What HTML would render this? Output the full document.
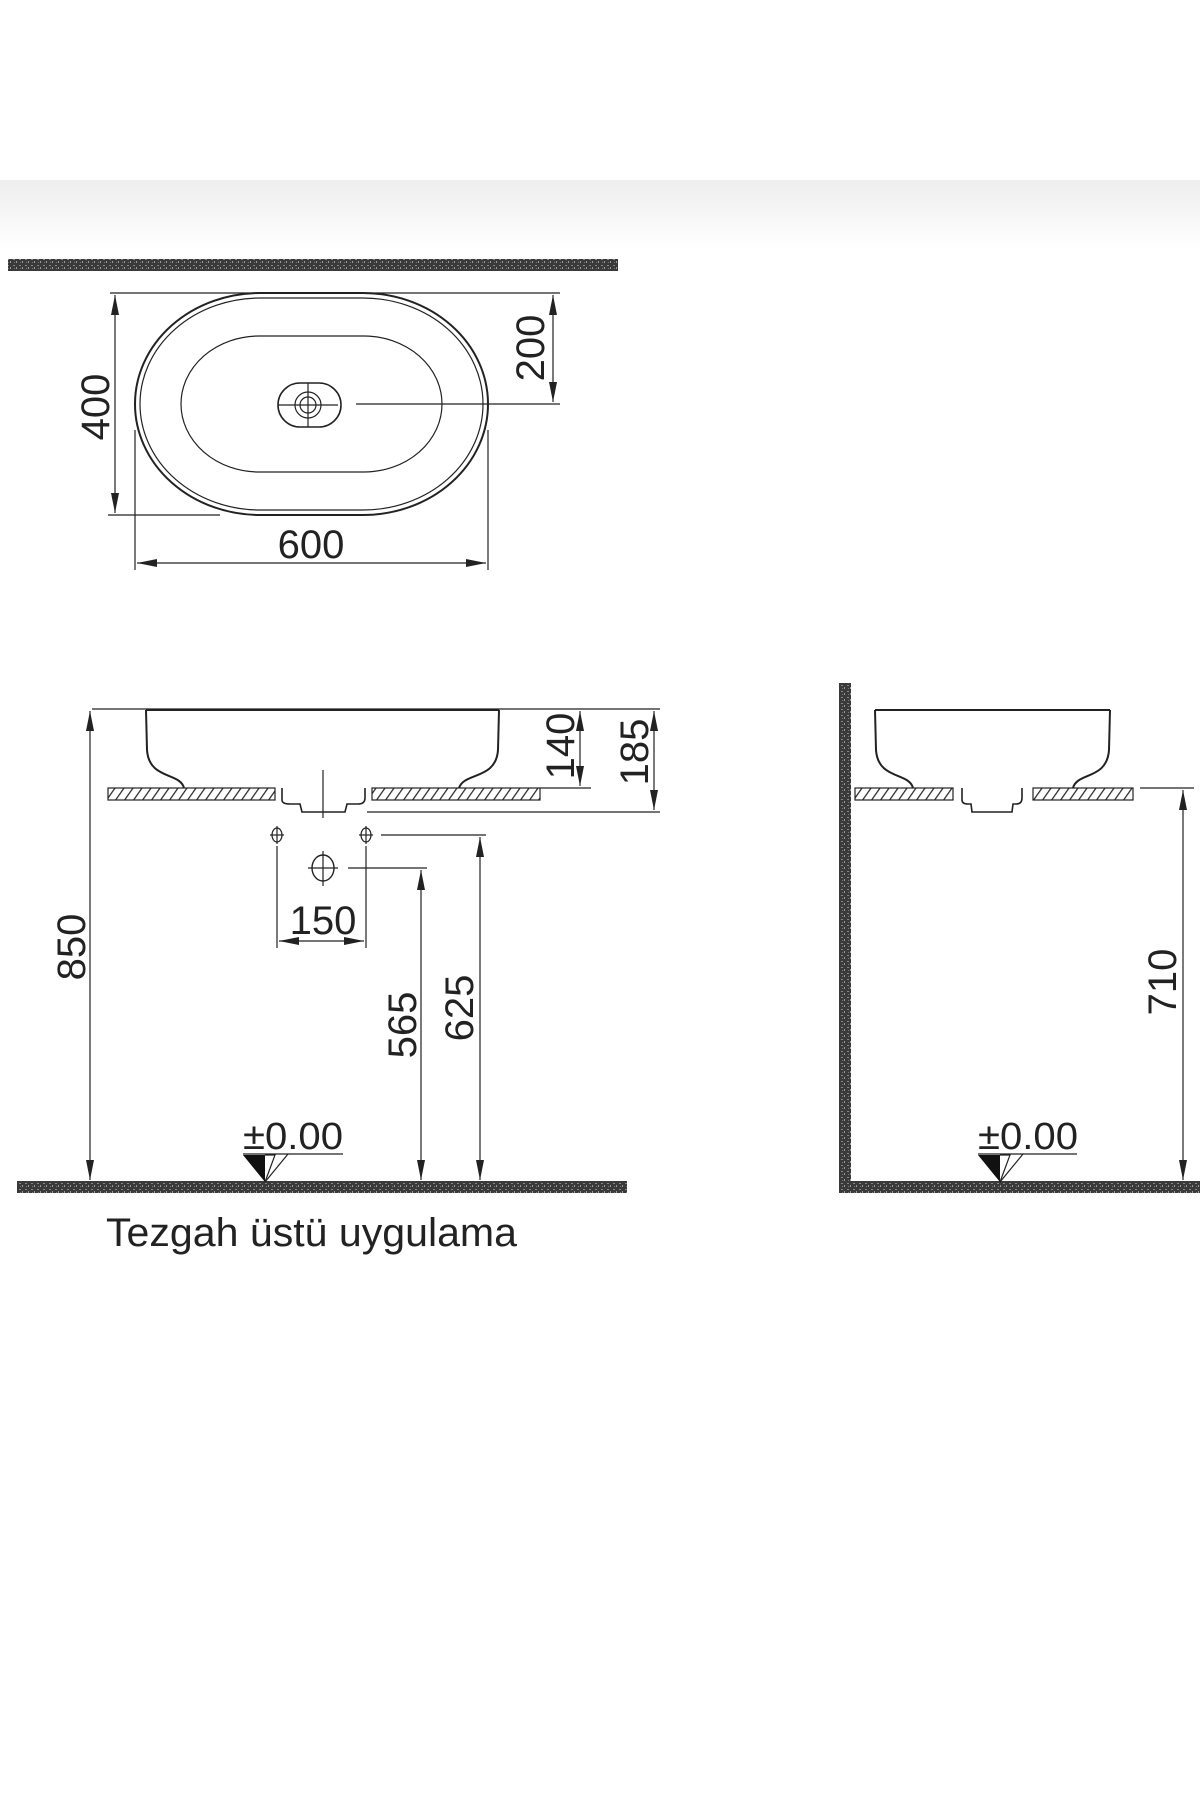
<!DOCTYPE html>
<html><head><meta charset="utf-8"><style>
html,body{margin:0;padding:0;background:#fff;}
svg{display:block;}
text{font-family:"Liberation Sans",sans-serif;fill:#222;}
</style></head><body>
<svg width="1200" height="1800" viewBox="0 0 1200 1800" xmlns="http://www.w3.org/2000/svg">
<defs>
<linearGradient id="g" x1="0" y1="0" x2="0" y2="1"><stop offset="0" stop-color="#eeeeee"/><stop offset="1" stop-color="#ffffff"/></linearGradient>
<pattern id="tex" width="6" height="6" patternUnits="userSpaceOnUse"><rect width="6" height="6" fill="#3a3a3a"/><rect x="1" y="1" width="2" height="1" fill="#888"/><rect x="4" y="3" width="1" height="2" fill="#999"/><rect x="2" y="4" width="1" height="1" fill="#777"/></pattern>
<pattern id="hatch" width="9" height="12" patternUnits="userSpaceOnUse" patternTransform="skewX(-35)"><rect width="9" height="12" fill="#fff"/><rect x="0" width="1.6" height="12" fill="#333"/></pattern>
<marker id="a" viewBox="0 0 20 8" refX="20" refY="4" markerWidth="20" markerHeight="8" markerUnits="userSpaceOnUse" orient="auto-start-reverse"><path d="M0,0 L20,4 L0,8 Z" fill="#222"/></marker>
</defs>
<rect x="0" y="180" width="1200" height="70" fill="url(#g)"/>
<g stroke="#222" fill="none" stroke-width="1.2">
<rect x="8" y="259" width="610" height="12" fill="url(#tex)" stroke="none"/>
<rect x="135" y="293" width="353" height="222" rx="125" ry="111" stroke-width="2"/>
<rect x="140" y="298" width="343" height="212" rx="120" ry="106" stroke-width="1.2"/>
<rect x="181" y="336" width="261" height="136" rx="78" ry="68"/>
<rect x="278" y="383" width="63" height="44" rx="22" ry="22" stroke-width="1.6"/>
<circle cx="308" cy="405" r="13"/><circle cx="308" cy="405" r="8"/>
<line x1="278" y1="405" x2="338" y2="405"/><line x1="308" y1="383" x2="308" y2="427"/>
<line x1="356" y1="404" x2="560" y2="404"/>
<line x1="110" y1="293" x2="560" y2="293"/>
<line x1="108" y1="515" x2="220" y2="515"/>
<line x1="115" y1="295" x2="115" y2="513" marker-start="url(#a)" marker-end="url(#a)"/>
<line x1="553" y1="295" x2="553" y2="402" marker-start="url(#a)" marker-end="url(#a)"/>
<line x1="135" y1="430" x2="135" y2="570"/><line x1="488" y1="430" x2="488" y2="570"/>
<line x1="137" y1="563" x2="486" y2="563" marker-start="url(#a)" marker-end="url(#a)"/>
<line x1="92" y1="709" x2="660" y2="709"/>
<path d="M146,710 L499,710 M146,710 L147,750 C149,780 180,772 184,788 M499,710 L498,750 C496,780 464,772 459,788" stroke-width="2"/>
<rect x="108" y="788" width="167" height="12" fill="url(#hatch)"/>
<rect x="372" y="788" width="168" height="12" fill="url(#hatch)"/>
<path d="M282,788 L282,800 Q282,804 290,804 L300,804 L302,812 L345,812 L347,804 L358,804 Q365,804 365,798 L365,788" stroke-width="1.6"/>
<line x1="323" y1="770" x2="323" y2="818"/>
<line x1="540" y1="788" x2="591" y2="788"/>
<line x1="367" y1="812" x2="660" y2="812"/>
<line x1="580" y1="711" x2="580" y2="786" marker-start="url(#a)" marker-end="url(#a)"/>
<line x1="654" y1="711" x2="654" y2="810" marker-start="url(#a)" marker-end="url(#a)"/>
<line x1="90" y1="711" x2="90" y2="1180" marker-start="url(#a)" marker-end="url(#a)"/>
<ellipse cx="277" cy="835" rx="5" ry="7"/><line x1="270" y1="835" x2="284" y2="835"/><line x1="277" y1="826" x2="277" y2="844"/>
<ellipse cx="366" cy="835" rx="5" ry="7"/><line x1="359" y1="835" x2="373" y2="835"/><line x1="366" y1="826" x2="366" y2="844"/>
<ellipse cx="323" cy="868" rx="11" ry="13" stroke-width="1.4"/><line x1="308" y1="868" x2="338" y2="868"/><line x1="323" y1="851" x2="323" y2="886"/>
<line x1="381" y1="835" x2="486" y2="835"/>
<line x1="348" y1="868" x2="427" y2="868"/>
<line x1="277" y1="846" x2="277" y2="948"/><line x1="366" y1="846" x2="366" y2="948"/>
<line x1="279" y1="941" x2="364" y2="941" marker-start="url(#a)" marker-end="url(#a)"/>
<line x1="421" y1="870" x2="421" y2="1180" marker-start="url(#a)" marker-end="url(#a)"/>
<line x1="480" y1="837" x2="480" y2="1180" marker-start="url(#a)" marker-end="url(#a)"/>
<rect x="17" y="1181" width="610" height="12" fill="url(#tex)" stroke="none"/>
<line x1="243" y1="1154" x2="343" y2="1154"/>
<path d="M243,1155 L265,1155 L265,1182 Z" fill="#111" stroke="none"/>
<path d="M265,1155 L275,1155 L265,1182" />
<line x1="265" y1="1182" x2="288" y2="1154"/>
<rect x="839" y="683" width="12" height="510" fill="url(#tex)" stroke="none"/>
<rect x="839" y="1181" width="361" height="12" fill="url(#tex)" stroke="none"/>
<path d="M875,710 L1110,710 M875,710 L876,750 C878,780 909,772 913,788 M1110,710 L1109,750 C1107,780 1077,772 1073,788" stroke-width="2"/>
<rect x="855" y="788" width="98" height="12" fill="url(#hatch)"/>
<rect x="1033" y="788" width="100" height="12" fill="url(#hatch)"/>
<path d="M962,788 L962,800 Q962,804 968,804 L971,804 L972,812 L1012,812 L1013,804 L1016,804 Q1022,804 1022,798 L1022,788" stroke-width="1.6"/>
<line x1="1140" y1="788" x2="1194" y2="788"/>
<line x1="1183" y1="790" x2="1183" y2="1180" marker-start="url(#a)" marker-end="url(#a)"/>
<line x1="978" y1="1154" x2="1077" y2="1154"/>
<path d="M978,1155 L1000,1155 L1000,1182 Z" fill="#111" stroke="none"/>
<path d="M1000,1155 L1010,1155 L1000,1182"/>
<line x1="1000" y1="1182" x2="1023" y2="1154"/>
</g>
<g font-size="40">
<text x="95" y="407" text-anchor="middle" transform="rotate(-90 95 407)" dy="14">400</text>
<text x="530" y="348" text-anchor="middle" transform="rotate(-90 530 348)" dy="14">200</text>
<text x="311" y="558" text-anchor="middle">600</text>
<text x="560" y="746" text-anchor="middle" transform="rotate(-90 560 746)" dy="14">140</text>
<text x="634" y="752" text-anchor="middle" transform="rotate(-90 634 752)" dy="14">185</text>
<text x="71" y="947" text-anchor="middle" transform="rotate(-90 71 947)" dy="14">850</text>
<text x="323" y="934" text-anchor="middle">150</text>
<text x="402" y="1025" text-anchor="middle" transform="rotate(-90 402 1025)" dy="14">565</text>
<text x="459" y="1008" text-anchor="middle" transform="rotate(-90 459 1008)" dy="14">625</text>
<text x="1162" y="982" text-anchor="middle" transform="rotate(-90 1162 982)" dy="14">710</text>
<text x="243" y="1149" font-size="38" textLength="100" lengthAdjust="spacingAndGlyphs">±0.00</text>
<text x="978" y="1149" font-size="38" textLength="100" lengthAdjust="spacingAndGlyphs">±0.00</text>
</g>
<text x="106" y="1246" font-size="40" textLength="411" lengthAdjust="spacingAndGlyphs">Tezgah üstü uygulama</text>
</svg>
</body></html>
